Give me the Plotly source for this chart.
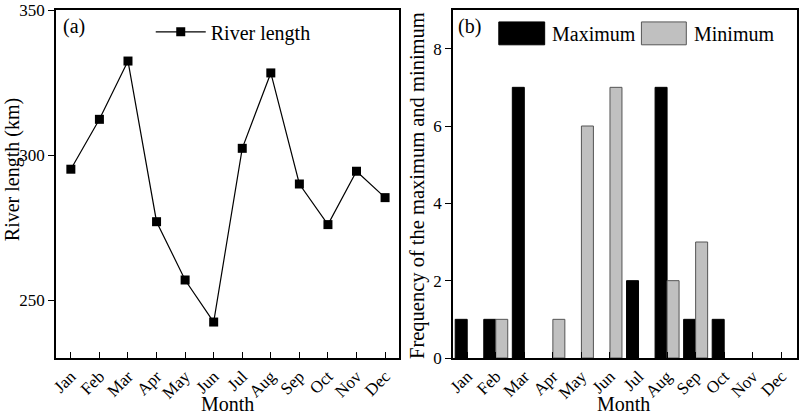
import plotly.graph_objects as go

months = ["Jan", "Feb", "Mar", "Apr", "May", "Jun", "Jul", "Aug", "Sep", "Oct", "Nov", "Dec"]
river_length = [295.1, 312.3, 332.4, 277.0, 256.9, 242.4, 302.3, 328.3, 290.0, 276.0, 294.4, 285.3]
freq_max = [1, 1, 7, 0, 0, 0, 2, 7, 1, 1, 0, 0]
freq_min = [0, 1, 0, 1, 6, 7, 0, 2, 3, 0, 0, 0]

FONT = "Liberation Serif"
W, H = 800, 415
ML, MR, MT, MB = 56, 1, 8, 57
PW = W - ML - MR
PH = H - MT - MB


def px(x):
    return (x - ML) / PW


def py(y):
    return (H - MB - y) / PH


def nz(vals):
    # zero-height bars are not drawn in the reference
    return [v if v else None for v in vals]


fig = go.Figure()

fig.add_trace(go.Scatter(
    x=months, y=river_length, mode="lines+markers", name="River length",
    line=dict(color="black", width=1.2),
    marker=dict(symbol="square", size=9, color="black"),
    xaxis="x", yaxis="y", legend="legend",
))

fig.add_trace(go.Bar(
    x=months, y=nz(freq_max), name="Maximum",
    marker=dict(color="black", line=dict(color="black", width=1)),
    xaxis="x2", yaxis="y2", showlegend=False,
))
fig.add_trace(go.Bar(
    x=months, y=nz(freq_min), name="Minimum",
    marker=dict(color="#c0c0c0", line=dict(color="#555555", width=1)),
    xaxis="x2", yaxis="y2", showlegend=False,
))

axis_common = dict(
    showline=True, linecolor="black", linewidth=1.5, mirror=True,
    showgrid=False, zeroline=False,
    tickfont=dict(family=FONT, size=17, color="black"),
    tickcolor="black", tickwidth=1.3, ticklen=6,
    ticklabeloverflow="allow",
)

fig.update_layout(
    width=W, height=H,
    margin=dict(l=ML, r=MR, t=MT, b=MB),
    paper_bgcolor="white", plot_bgcolor="white",
    font=dict(family=FONT, color="black"),
    barmode="group", bargap=0.16, bargroupgap=0,
    xaxis=dict(domain=[0, px(400)], type="category", categoryorder="array",
               categoryarray=months, range=[-0.52, 11.49], ticks="inside",
               tickangle=-45, anchor="y", **axis_common),
    yaxis=dict(domain=[0, 1], range=[230, 350], dtick=50, ticks="outside",
               anchor="x", **axis_common),
    xaxis2=dict(domain=[px(454), 1], type="category", categoryorder="array",
                categoryarray=months, range=[-0.5, 11.55], ticks="inside",
                tickangle=-45, anchor="y2", **axis_common),
    yaxis2=dict(domain=[0, 1], range=[0, 9], dtick=2, ticks="outside",
                anchor="x2", **axis_common),
    legend=dict(x=px(151), y=py(30), xanchor="left", yanchor="middle",
                bgcolor="rgba(0,0,0,0)", font=dict(family=FONT, size=20),
                itemwidth=50),
    showlegend=True,
)

ann = [
    dict(text="(a)", x=px(61), y=py(25), xanchor="left", yanchor="middle"),
    dict(text="(b)", x=px(457), y=py(25), xanchor="left", yanchor="middle"),
    dict(text="Month", x=px(228), y=py(404), xanchor="center", yanchor="middle"),
    dict(text="Month", x=px(625), y=py(404), xanchor="center", yanchor="middle"),
    dict(text="River length (km)", x=px(12), y=py(169), xanchor="center",
         yanchor="middle", textangle=-90),
    dict(text="Frequency of the maximum and minimum", x=px(419), y=py(185),
         xanchor="center", yanchor="middle", textangle=-90, size=20.5),
    dict(text="Maximum", x=px(551), y=py(32), xanchor="left", yanchor="middle"),
    dict(text="Minimum", x=px(694), y=py(32), xanchor="left", yanchor="middle"),
]
for a in ann:
    size = a.pop("size", 20)
    a.update(xref="paper", yref="paper", showarrow=False,
             font=dict(family=FONT, size=size, color="black"))
    fig.add_annotation(**a)

fig.add_shape(type="rect", xref="paper", yref="paper",
              x0=px(500), x1=px(546), y0=py(43), y1=py(20),
              fillcolor="black", line=dict(color="black", width=1))
fig.add_shape(type="rect", xref="paper", yref="paper",
              x0=px(643), x1=px(688), y0=py(43), y1=py(20),
              fillcolor="#c0c0c0", line=dict(color="#555555", width=1))

fig.write_html("out.html",
               config={"displayModeBar": False},
               post_script="document.body.style.margin='0';"
                           "document.body.style.overflow='hidden';")
